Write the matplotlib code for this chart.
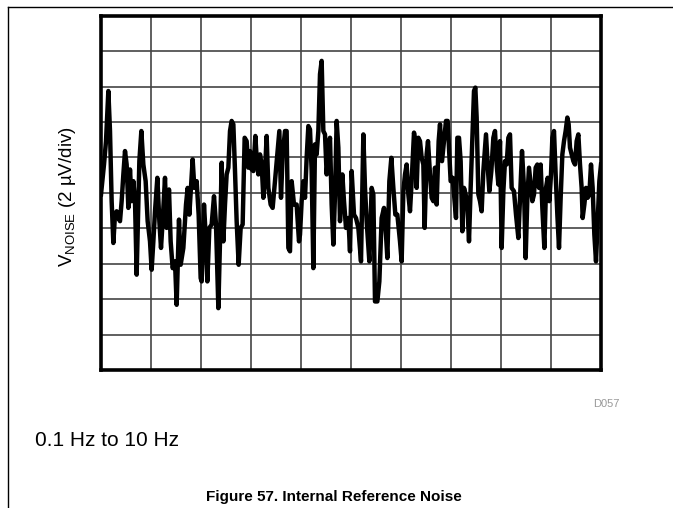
import numpy as np
import matplotlib.pyplot as plt
from matplotlib.lines import Line2D

plt.rcParams['font.family'] = ['Liberation Sans', 'DejaVu Sans']
plt.rcParams['mathtext.fontset'] = 'custom'
plt.rcParams['mathtext.rm'] = 'Liberation Sans'

# 0.1 Hz to 10 Hz noise capture: time (s) and reference noise (uV)
time_s = [
    0.00, 0.06, 0.10, 0.147, 0.18, 0.213, 0.247, 0.28, 0.313, 0.347, 0.38, 0.413,
    0.447, 0.48, 0.513, 0.547, 0.58, 0.613, 0.647, 0.68, 0.713, 0.767, 0.807, 0.847,
    0.893, 0.933, 0.98, 1.013, 1.047, 1.08, 1.127, 1.167, 1.20, 1.233, 1.28, 1.313,
    1.36, 1.393, 1.433, 1.48, 1.513, 1.56, 1.593, 1.647, 1.70, 1.733, 1.767, 1.80,
    1.833, 1.867, 1.913, 1.953, 1.993,
    2.013, 2.06, 2.10, 2.127, 2.167, 2.213, 2.26, 2.30, 2.347, 2.38, 2.413, 2.447,
    2.48, 2.513, 2.547, 2.58, 2.613, 2.647, 2.68, 2.713, 2.753, 2.793, 2.833, 2.873,
    2.913, 2.947, 2.98, 3.013, 3.047, 3.087, 3.113, 3.147, 3.18, 3.213, 3.247, 3.28,
    3.313, 3.347, 3.393, 3.433, 3.48, 3.527, 3.567, 3.60, 3.633, 3.68, 3.713, 3.747,
    3.78, 3.813, 3.86, 3.913, 3.96,
    3.98, 4.013, 4.047, 4.08, 4.113, 4.147, 4.18, 4.213, 4.247, 4.28, 4.313, 4.347,
    4.38, 4.413, 4.447, 4.48, 4.513, 4.547, 4.58, 4.613, 4.647, 4.68, 4.713, 4.747,
    4.78, 4.827, 4.86, 4.90, 4.947, 4.98, 5.013, 5.06, 5.10, 5.147, 5.20, 5.247,
    5.28, 5.313, 5.367, 5.413, 5.447, 5.48, 5.527, 5.567, 5.613, 5.66, 5.70, 5.727,
    5.767, 5.807, 5.847, 5.887, 5.927, 5.98,
    6.013, 6.047, 6.08, 6.113, 6.147, 6.18, 6.213, 6.26, 6.287, 6.313, 6.347, 6.38,
    6.413, 6.447, 6.473, 6.513, 6.54, 6.58, 6.613, 6.647, 6.68, 6.713, 6.753, 6.78,
    6.82, 6.86, 6.90, 6.933, 6.967, 6.993, 7.033, 7.067, 7.10, 7.127, 7.16, 7.193,
    7.227, 7.26, 7.293, 7.327, 7.36, 7.393, 7.427, 7.46, 7.487, 7.513, 7.547, 7.58,
    7.613, 7.647, 7.70, 7.74, 7.767, 7.807, 7.847, 7.88, 7.913, 7.947, 7.98,
    8.013, 8.047, 8.08, 8.113, 8.147, 8.18, 8.213, 8.26, 8.30, 8.347, 8.38, 8.42,
    8.46, 8.493, 8.527, 8.56, 8.593, 8.627, 8.66, 8.693, 8.727, 8.76, 8.793, 8.827,
    8.867, 8.90, 8.933, 8.967, 9.00, 9.027, 9.06, 9.093, 9.127, 9.16, 9.193, 9.227,
    9.26, 9.293, 9.327, 9.353, 9.38, 9.413, 9.447, 9.48, 9.513, 9.547, 9.58, 9.613,
    9.633, 9.667, 9.70, 9.733, 9.767, 9.80, 9.833, 9.867, 9.90, 9.933, 9.967, 10.0,
]
noise_uv = [
    -0.09, 1.60, 2.92, 5.75, 3.49, -0.47, -2.83, -1.23, -1.04, -1.42, -1.60, -0.47,
    1.04, 2.36, 1.60, -0.85, 1.32, -0.47, 0.66, -0.47, -4.62, 1.79, 3.49, 1.60,
    0.66, -1.60, -2.74, -4.34, -2.74, -1.04, 0.85, -1.60, -3.11, -1.60, 0.85, -1.98,
    0.19, -2.74, -4.25, -3.87, -6.32, -1.51, -4.06, -3.11, -0.66, 0.28, -1.23, 0.28,
    1.89, 0.28, 0.66, -1.23, -4.81,
    -5.00, -0.66, -2.74, -5.00, -1.98, -1.79, -0.19, -1.79, -6.51, -2.74, 1.70, -2.74,
    -0.66, 1.04, 1.42, 3.49, 4.06, 3.87, 1.23, -1.60, -4.06, -1.98, -1.79, 3.11,
    2.92, 1.42, 2.36, 1.32, 1.23, 3.21, 1.98, 1.04, 2.17, 1.60, -0.28, 1.23,
    3.21, 0.28, -0.66, -0.85, 0.66, 2.17, 3.49, -0.28, 2.17, 3.49, 3.49, -3.11,
    -3.30, 0.66, -0.66, -0.66, -2.74,
    -2.36, -0.47, 0.66, -0.28, 1.98, 3.77, 3.58, 1.23, -4.25, 2.74, 2.17, 3.49,
    6.70, 7.45, 3.49, 3.30, 1.04, 2.36, 3.11, -0.66, -2.92, -0.09, 4.06, 2.55,
    -1.60, 1.04, -0.47, -1.98, -1.42, -3.30, 1.23, -1.23, -1.42, -1.98, -3.87, 3.30,
    0.28, -1.60, -3.87, 0.28, -0.09, -6.13, -6.13, -5.00, -1.42, -0.85, -2.36, -3.68,
    0.66, 1.98, 0.28, -1.23, -1.23, -2.74,
    -3.87, 0.09, 1.04, 1.60, -0.09, -1.04, 0.66, 3.40, 2.92, 0.28, 3.11, 2.92,
    1.98, 1.60, -1.98, 2.17, 2.92, 1.04, -0.28, -0.47, 1.42, -0.66, 2.92, 3.87,
    1.79, 2.92, 4.06, 4.06, 2.17, 0.66, 0.85, -0.28, -1.42, 3.11, 3.11, 1.79,
    -2.17, 0.28, -0.09, -0.66, -2.74, 0.28, 3.11, 5.75, 5.94, 4.25, -0.09, -0.47,
    -1.04, 1.23, 3.30, 1.23, 0.09, 1.23, 3.11, 3.49, 1.60, 0.47, 2.92,
    -3.11, 0.09, 1.79, 1.60, 3.11, 3.30, 0.28, 0.09, -1.23, -2.55, -0.28, 2.36,
    0.28, -3.68, -0.28, 1.42, 0.47, -0.47, -0.09, 1.42, 1.60, 0.28, 1.60, -0.85,
    -3.11, 0.28, 0.85, -0.47, 1.04, 3.11, 3.49, 1.04, -1.23, -3.11, -0.28, 2.17,
    2.92, 3.49, 4.25, 3.87, 2.55, 2.17, 1.79, 1.60, 2.92, 3.30, 1.60, 0.28,
    -1.42, -0.66, 0.28, -0.28, -0.09, 1.60, 0.28, -2.36, -3.87, -1.60, 0.66, 1.60,
]

x_ticks = np.arange(0, 11, 1)        # 1 s/div
y_ticks = np.arange(-10, 11, 2)      # 2 uV/div

fig = plt.figure(figsize=(6.73, 5.08), dpi=100)
ax = fig.add_axes([101 / 673, 1 - 370 / 508, 500 / 673, 354.3 / 508])

ax.plot(time_s, noise_uv, color='black', linewidth=3.2, solid_joinstyle='round', zorder=3)

ax.set_xlim(0, 10)
ax.set_ylim(-10, 10)
ax.set_xticks(x_ticks)
ax.set_yticks(y_ticks)
ax.tick_params(length=0, labelbottom=False, labelleft=False)
ax.grid(True, color='#444444', linewidth=1.2)
for sp in ax.spines.values():
    sp.set_linewidth(2.6)
    sp.set_color('black')
    sp.set_zorder(4)

ax.set_ylabel(r'V$_{\mathregular{NOISE}}$ (2 µV/div)', fontsize=13.5)
ax.yaxis.set_label_coords(-0.046, 0.49)

# page rule lines
fig.add_artist(Line2D([8 / 673, 1], [1 - 7 / 508, 1 - 7 / 508], color='black', linewidth=1.0))
fig.add_artist(Line2D([8 / 673, 8 / 673], [0, 1 - 7 / 508], color='black', linewidth=1.0))

fig.text(620 / 673, 1 - 404 / 508, 'D057', fontsize=8, color='#999999', ha='right', va='center')
fig.text(35 / 673, 1 - 440 / 508, '0.1 Hz to 10 Hz', fontsize=15, ha='left', va='center')
fig.text(334 / 673, 1 - 497 / 508, 'Figure 57. Internal Reference Noise', fontsize=11,
         fontweight='bold', ha='center', va='center')

fig.savefig('out.png', dpi=100)
